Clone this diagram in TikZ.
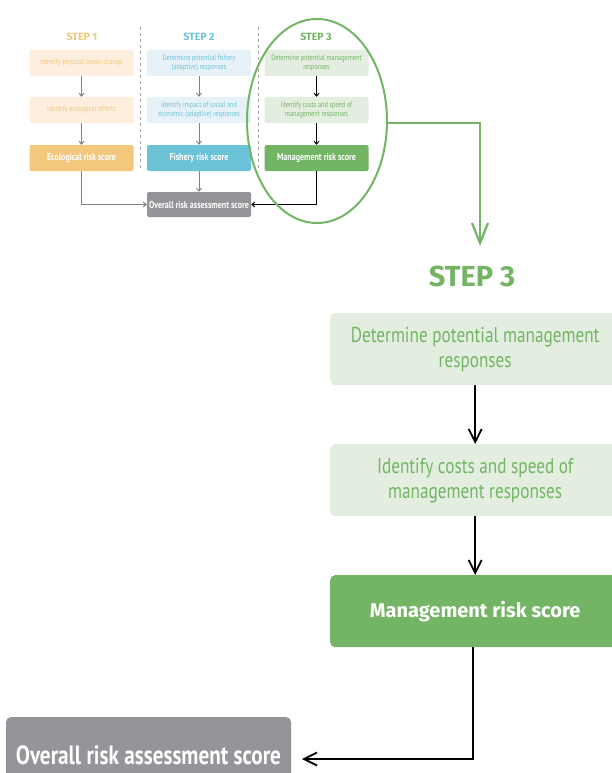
\documentclass[tikz,border=0pt]{standalone}
\usepackage{fontspec}
\setmainfont[FakeStretch=0.8]{PT Sans}
\newfontfamily\widesans{Fira Sans}
\usetikzlibrary{positioning,arrows.meta,shapes.geometric}

\definecolor{orangestep}{HTML}{F1C87C}
\definecolor{orangelight}{HTML}{FDEEDD}
\definecolor{bluestep}{HTML}{6CC3D8}
\definecolor{bluelight}{HTML}{E6F2F7}
\definecolor{greenstep}{HTML}{73B565}
\definecolor{greenlight}{HTML}{E3EEE0}
\definecolor{greyscore}{HTML}{939598}

\begin{document}
\begin{tikzpicture}[x=1pt, y=-1pt,
    box/.style={rounded corners=2pt, align=center, inner sep=0pt},
    small/.style={box, minimum width=104pt, minimum height=26pt, font=\fontsize{7.8}{8.2}\selectfont},
    smallscore/.style={small, text=white, font=\bfseries\fontsize{10}{11}\selectfont},
    big/.style={box, rounded corners=5pt, minimum width=290pt, minimum height=72pt, anchor=north west, font=\fontsize{21.5}{25}\selectfont},
    steplabel/.style={font=\widesans\bfseries\fontsize{10.5}{12}\selectfont},
    thin arrow/.style={line width=0.9pt, -{Straight Barb[length=3pt, width=5pt]}},
    thick arrow/.style={line width=1.8pt, -{Straight Barb[length=13pt, width=13pt]}}]
    \useasboundingbox (0,0) rectangle (611,773);

    % Step headings
    \node[steplabel, text=orangestep] (head1) at (82,37) {STEP 1};
    \node[steplabel, text=bluestep]   (head2) at (199,37) {STEP 2};
    \node[steplabel, text=greenstep]  (head3) at (316,37) {STEP 3};

    % Column separators
    \draw[dashed, gray!70, line width=0.6pt] (140,27) -- (140,170);
    \draw[dashed, gray!70, line width=0.6pt] (258,27) -- (258,170);

    % Step 1
    \node[small, fill=orangelight, text=orangestep] (eco1) at (81.5,63) {Identify physical ocean change};
    \node[small, fill=orangelight, text=orangestep] (eco2) at (81.5,110) {Identify ecological effects};
    \node[smallscore, fill=orangestep] (eco3) at (81.5,158) {Ecological risk score};

    % Step 2
    \node[small, fill=bluelight, text=bluestep] (fish1) at (199,63) {Determine potential fishery\\(adaptive) responses};
    \node[small, fill=bluelight, text=bluestep] (fish2) at (199,110) {Identify impact of social and\\economic (adaptive) responses};
    \node[smallscore, fill=bluestep] (fish3) at (199,158) {Fishery risk score};

    % Step 3
    \node[small, fill=greenlight, text=greenstep] (man1) at (316.5,63) {Determine potential management\\responses};
    \node[small, fill=greenlight, text=greenstep] (man2) at (316.5,110) {Identify costs and speed of\\management responses};
    \node[smallscore, fill=greenstep] (man3) at (316.5,158) {Management risk score};

    % Overall (small)
    \node[smallscore, minimum height=25pt, fill=greyscore] (all) at (199,204.5) {Overall risk assessment score};

    \draw[thin arrow, gray] (eco1) -- (eco2);
    \draw[thin arrow, gray] (eco2) -- (eco3);
    \draw[thin arrow, gray] (eco3.south) |- (all.west);
    \draw[thin arrow, gray] (fish1) -- (fish2);
    \draw[thin arrow, gray] (fish2) -- (fish3);
    \draw[thin arrow, gray] (fish3) -- (all);
    \draw[thin arrow, black] (man1) -- (man2);
    \draw[thin arrow, black] (man2) -- (man3);
    \draw[thin arrow, black] (man3.south) |- (all.east);

    % Zoom on step 3
    \node[draw=greenstep, line width=2pt, ellipse, inner sep=0pt, minimum width=140pt, minimum height=204pt] (zoom) at (317,121) {};
    \coordinate (bend) at (480,123);
    \coordinate (drop) at (480,246);
    \draw[greenstep, line width=2.2pt, -{Straight Barb[length=20pt, width=16pt]}] (zoom.east |- bend) -- (bend) -- (drop);

    \node[font=\widesans\bfseries\fontsize{29}{34}\selectfont, text=greenstep] (bighead) at (472,276) {STEP 3};
    \node[big, fill=greenlight, text=greenstep] (bigman1) at (330,313) {Determine potential management\\responses};
    \node[big, fill=greenlight, text=greenstep] (bigman2) at (330,444) {Identify costs and speed of\\management responses};
    \node[big, fill=greenstep, text=white, font=\widesans\bfseries\fontsize{20}{25}\selectfont] (bigman3) at (330,575) {Management risk score};

    % Overall score box runs off the page
    \fill[greyscore, rounded corners=5pt] (6,717) rectangle (291,800);
    \node[text=white, inner sep=0pt, font=\bfseries\fontsize{26.5}{29}\selectfont] (bigall) at (148.5,755) {Overall risk assessment score};
    \coordinate (allright) at (302,759);

    \coordinate (corner) at (473,759);
    \draw[thick arrow] (bigman1) -- (bigman2);
    \draw[thick arrow] (bigman2) -- (bigman3);
    \draw[thick arrow] (bigman3.south -| corner) -- (corner) -- (allright);
\end{tikzpicture}
\end{document}
